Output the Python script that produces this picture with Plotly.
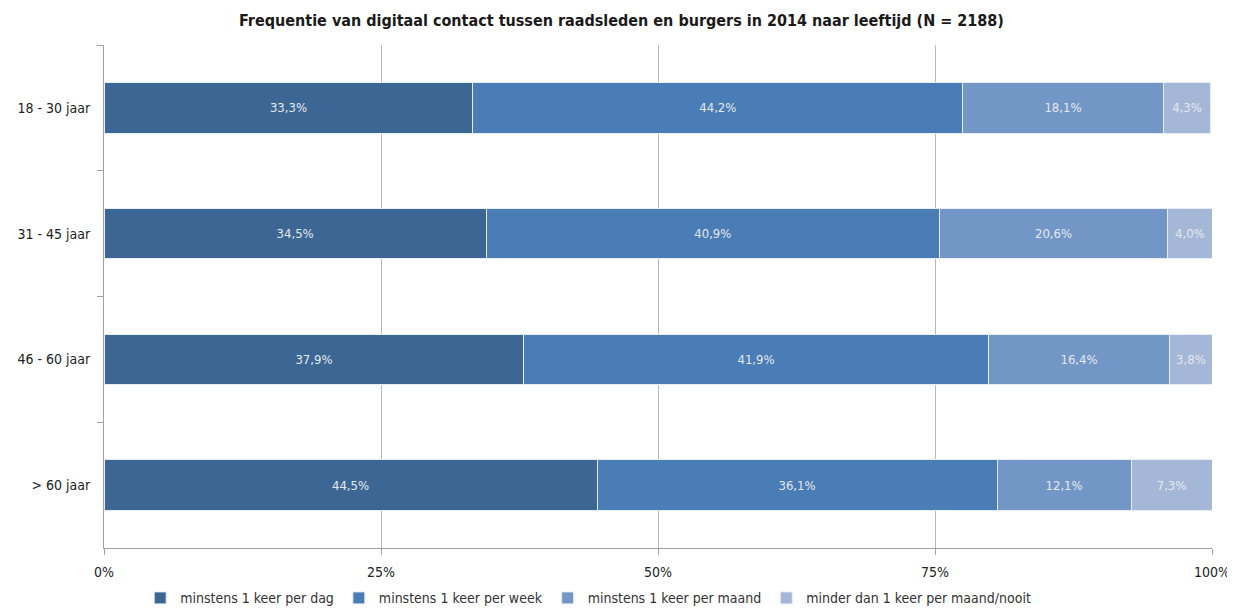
import plotly.graph_objects as go

categories = ["18 - 30 jaar", "31 - 45 jaar", "46 - 60 jaar", "> 60 jaar"]
series_names = ["minstens 1 keer per dag", "minstens 1 keer per week",
                "minstens 1 keer per maand", "minder dan 1 keer per maand/nooit"]
dag = [33.3, 34.5, 37.9, 44.5]
week = [44.2, 40.9, 41.9, 36.1]
maand = [18.1, 20.6, 16.4, 12.1]
nooit = [4.3, 4.0, 3.8, 7.3]
tick_vals = [0, 25, 50, 75, 100]
tick_text = ["0%", "25%", "50%", "75%", "100%"]
title_text = "Frequentie van digitaal contact tussen raadsleden en burgers in 2014 naar leeftijd (N = 2188)"

colors = ["#3c6795", "#4a7cb6", "#7297c7", "#a4b7d6"]
FONT = "DejaVu Sans Condensed, Liberation Sans Narrow, Arial Narrow, sans-serif"

W, H = 1227, 603  # page has an 8px body margin

fig = go.Figure()
for name, vals, col in zip(series_names, [dag, week, maand, nooit], colors):
    fig.add_trace(go.Bar(
        y=categories, x=vals, name=name, orientation="h",
        marker=dict(color=col, line=dict(color="#e8edf3", width=1)),
        width=0.4,
        text=[f"{v:.1f}%".replace(".", ",") for v in vals],
        textposition="inside", insidetextanchor="middle",
        textfont=dict(color="#e4e8ee", size=13, family=FONT),
        hoverinfo="x+name",
    ))

fig.update_layout(
    barmode="stack",
    width=W, height=H,
    paper_bgcolor="white", plot_bgcolor="white",
    margin=dict(l=96, r=23, t=37, b=63, autoexpand=False),
    title=dict(text="<b>" + title_text + "</b>", x=0.5, xanchor="center",
               y=1 - 12/H, yanchor="middle",
               font=dict(family=FONT, size=16, color="#1a1a1a")),
    font=dict(family=FONT, size=13, color="#333333"),
    legend=dict(orientation="h", x=0.437, xanchor="center", y=-0.1, yanchor="middle",
                font=dict(family=FONT, size=14, color="#333333"),
                traceorder="normal", itemwidth=30),
    uniformtext=dict(mode="show", minsize=10),
)
fig.update_xaxes(range=[0, 100], tickvals=tick_vals, ticktext=tick_text,
                 showgrid=True, gridcolor="#b8b8b8", gridwidth=1,
                 showline=True, linecolor="#a0a0a0", ticks="outside",
                 tickcolor="#a0a0a0", ticklen=6, zeroline=False, automargin=False,
                 ticklabelstandoff=5,
                 tickfont=dict(family=FONT, size=14, color="#222222"))
fig.update_yaxes(categoryorder="array", categoryarray=categories, autorange="reversed",
                 showline=True, linecolor="#a0a0a0", ticks="outside", tickson="boundaries",
                 tickcolor="#a0a0a0", ticklen=6, showgrid=False, automargin=False,
                 ticklabelstandoff=10,
                 tickfont=dict(family=FONT, size=14, color="#222222"))

fig.write_html("out.html")
